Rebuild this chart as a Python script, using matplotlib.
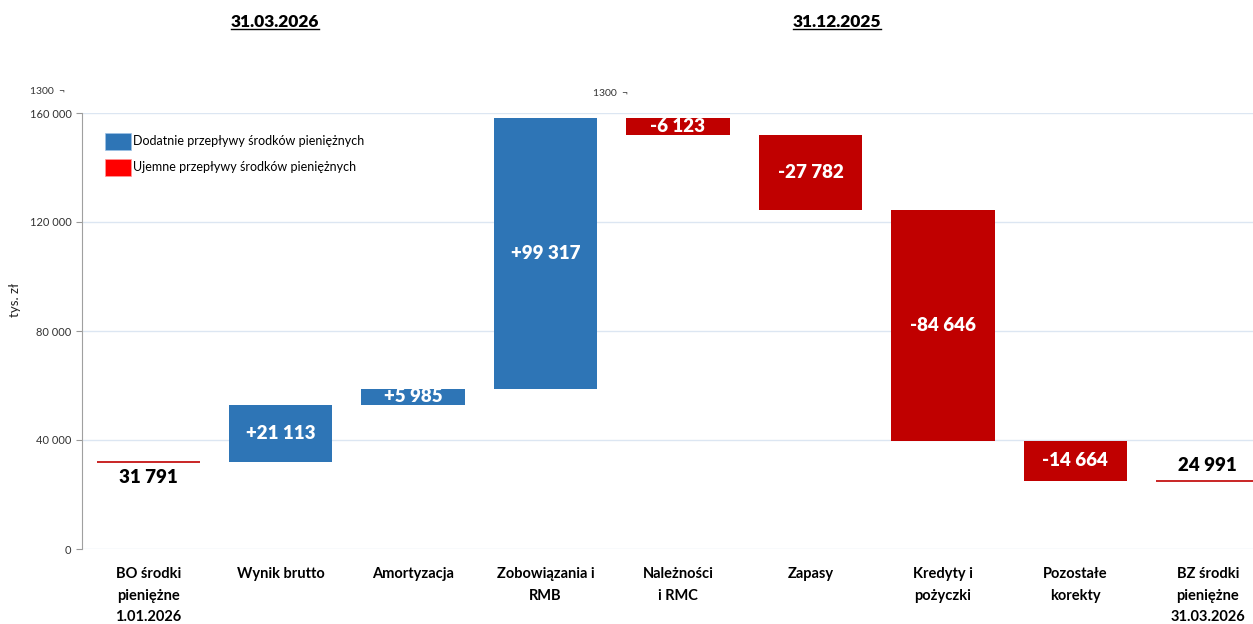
import matplotlib
matplotlib.use("Agg")
import matplotlib.pyplot as plt
from matplotlib.patches import Patch
from matplotlib.lines import Line2D
import numpy as np

plt.rcParams['font.family'] = ['Lato', 'DejaVu Sans']

categories = ["BO środki\npieniężne\n1.01.2026", "Wynik brutto", "Amortyzacja",
              "Zobowiązania i\nRMB", "Należności\ni RMC", "Zapasy",
              "Kredyty i\npożyczki", "Pozostałe\nkorekty", "BZ środki\npieniężne\n31.03.2026"]
opening = 31791
changes = [21113, 5985, 99317, -6123, -27782, -84646, -14664]
closing = 24991
change_labels = ["+21 113", "+5 985", "+99 317", "-6 123", "-27 782", "-84 646", "-14 664"]
opening_label = "31 791"
closing_label = "24 991"
yticks = [0, 40000, 80000, 120000, 160000]
ytick_labels = ["0", "40 000", "80 000", "120 000", "160 000"]
legend_labels = ["Dodatnie przepływy środków pieniężnych", "Ujemne przepływy środków pieniężnych"]
title_left = "31.03.2026"
title_right = "31.12.2025"

BLUE = "#2E75B6"
DARK_RED = "#C00000"
LEG_RED = "#FF0000"
GRID = "#DCE6F2"

W, H = 1253, 624
fig = plt.figure(figsize=(W / 100, H / 100), dpi=100)
ax = fig.add_axes([82 / W, 1 - 549 / H, 1192 / W, 436 / H])

x = np.arange(len(categories))
bw = 0.78

# waterfall
level = opening
bottoms, heights = [], []
for c in changes:
    new = level + c
    bottoms.append(min(level, new))
    heights.append(abs(c))
    level = new

chg_x = x[1:-1]
colors = [BLUE if c > 0 else DARK_RED for c in changes]
ax.bar(chg_x, heights, bottom=bottoms, width=bw, color=colors, zorder=3)
for xi, b, h, lab in zip(chg_x, bottoms, heights, change_labels):
    ax.text(xi, b + h / 2, lab, ha="center", va="center", color="white",
            fontsize=13.5, fontweight="heavy", zorder=4)

# opening / closing lines
ax.hlines(opening, x[0] - bw / 2, x[0] + bw / 2, color=DARK_RED, lw=1.2, zorder=3)
ax.text(x[0], opening - 2500, opening_label, ha="center", va="top", fontsize=13.5,
        fontweight="heavy", color="black")
ax.hlines(closing, x[-1] - bw / 2, x[-1] + bw / 2, color=DARK_RED, lw=1.2, zorder=3)
ax.text(x[-1], closing + 2500, closing_label, ha="center", va="bottom", fontsize=13.5,
        fontweight="heavy", color="black")

ax.set_xlim(-0.5, len(categories) - 0.5)
ax.set_ylim(0, 160000)
ax.set_yticks(yticks)
ax.set_yticklabels(ytick_labels, fontsize=8, color="#333333")
ax.set_xticks(x)
ax.set_xticklabels(categories, fontsize=10.5, fontweight="bold", linespacing=1.7,
                   va="top")
ax.tick_params(axis="x", length=0, pad=13)
ax.tick_params(axis="y", length=4, color="#999999", width=0.8)
for yt in yticks:
    ax.axhline(yt, color=GRID, lw=1, zorder=1)
for s in ["top", "right", "bottom"]:
    ax.spines[s].set_visible(False)
ax.spines["left"].set_color("#A0A0A0")

fig.text(15 / W, 1 - 300 / H, "tys. zł", rotation=90, fontsize=9.5,
         ha="center", va="center", color="#222222")

handles = [Patch(facecolor=BLUE, edgecolor="#9DC3E6", lw=0.5),
           Patch(facecolor=LEG_RED, edgecolor="#FF9999", lw=0.5)]
ax.legend(handles, legend_labels, loc="upper left", bbox_to_anchor=(0.012, 0.975),
          frameon=False, fontsize=9, handlelength=2.1, handleheight=1.7,
          handletextpad=0.15, labelspacing=0.75, borderaxespad=0.3)

# titles
def underlined_title(xc, yc, s):
    t = fig.text(xc / W, 1 - yc / H, s, ha="center", va="center", fontsize=12.5,
                 fontweight="heavy", color="black")
    fig.canvas.draw()
    bb = t.get_window_extent().transformed(fig.transFigure.inverted())
    fig.add_artist(Line2D([bb.x0, bb.x1], [bb.y0 + 0.002, bb.y0 + 0.002],
                          transform=fig.transFigure, color="black", lw=1))

underlined_title(275, 22, title_left)
underlined_title(837, 22, title_right)

fig.text(30 / W, 1 - 92 / H, "1300  ¬", fontsize=7.5, va="center", color="#333333")
fig.text(593 / W, 1 - 94 / H, "1300  ¬", fontsize=7.5, va="center", color="#333333")

fig.savefig("out.png", dpi=100)
